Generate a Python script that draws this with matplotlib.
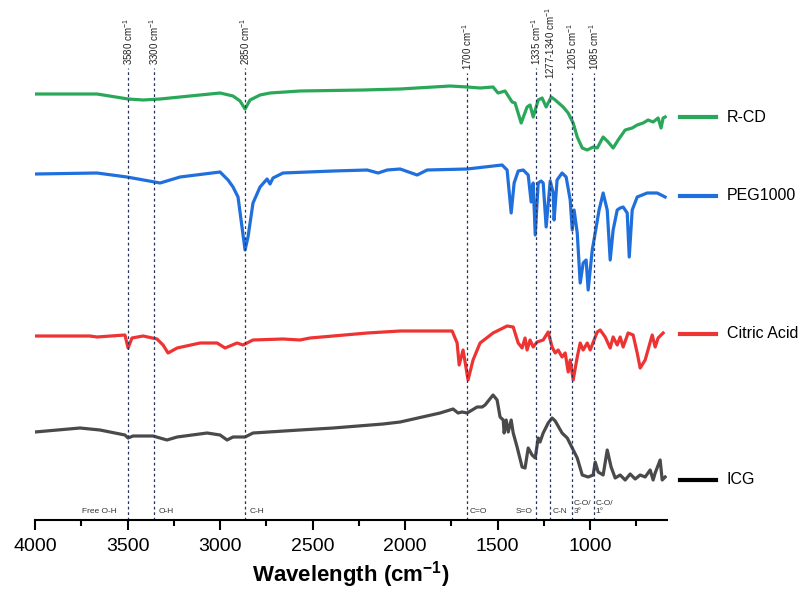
import numpy as np
import matplotlib
matplotlib.use("Agg")
import matplotlib.pyplot as plt
from matplotlib.ticker import MultipleLocator
from matplotlib.lines import Line2D

plt.rcParams['font.family'] = ['Liberation Sans', 'DejaVu Sans']
plt.rcParams['mathtext.fontset'] = 'custom'
plt.rcParams['mathtext.rm'] = 'Liberation Sans'
plt.rcParams['mathtext.bf'] = 'Liberation Sans:bold'

# ---- spectra (wavenumber, offset transmittance in arbitrary units) ----
rcd_wn = [4000, 3665, 3497, 3416, 3324, 3108, 3000, 2930, 2892, 2865, 2838, 2784, 2730, 2568,
          2227, 2027, 1757, 1665, 1595, 1525, 1498, 1460, 1422, 1406, 1373, 1341, 1325, 1308,
          1281, 1260, 1238, 1211, 1189, 1146, 1119, 1092, 1070, 1043, 1016, 984, 962, 930, 903,
          876, 849, 811, 773, 746, 714, 687, 660, 633, 617, 606, 595]
rcd_y = [426, 426, 421, 420, 421, 425, 427, 424, 419, 411, 420, 425, 427, 429,
         430, 431, 434, 433, 432, 433, 427, 429, 418, 417, 397, 413, 415, 403,
         420, 422, 413, 423, 420, 413, 407, 397, 383, 372, 370, 373, 372, 383, 378,
         372, 380, 390, 392, 395, 397, 400, 398, 402, 392, 402, 403]

peg_wn = [4000, 3665, 3503, 3324, 3216, 3000, 2957, 2930, 2903, 2865, 2849, 2822, 2784, 2746,
          2730, 2714, 2660, 2389, 2205, 2146, 2097, 2027, 1935, 1881, 1665, 1476, 1449, 1427,
          1411, 1389, 1362, 1335, 1319, 1308, 1297, 1281, 1265, 1254, 1238, 1216, 1200, 1195,
          1179, 1152, 1130, 1108, 1097, 1087, 1070, 1054, 1038, 1022, 1011, 989, 973, 952, 930,
          908, 892, 876, 854, 838, 822, 800, 789, 773, 746, 692, 638, 595]
peg_y = [346, 347, 343, 337, 343, 348, 340, 333, 323, 270, 283, 317, 333, 341,
         336, 342, 347, 349, 350, 347, 350, 351, 345, 350, 351, 355, 350, 307,
         337, 349, 350, 345, 318, 337, 285, 337, 339, 337, 293, 339, 327, 300,
         340, 347, 343, 320, 290, 310, 287, 237, 257, 260, 230, 270, 287, 310, 327,
         310, 260, 290, 310, 312, 313, 307, 263, 310, 323, 327, 327, 323]

ca_wn = [4000, 3703, 3665, 3514, 3497, 3476, 3416, 3341, 3308, 3281, 3232, 3108, 3016, 2973,
         2908, 2876, 2822, 2660, 2568, 2514, 2389, 2205, 2027, 1811, 1746, 1719, 1708, 1687,
         1676, 1660, 1633, 1595, 1525, 1449, 1416, 1389, 1368, 1352, 1341, 1325, 1308, 1287,
         1254, 1227, 1206, 1189, 1173, 1152, 1135, 1119, 1108, 1092, 1070, 1054, 1038, 1016,
         1000, 962, 946, 919, 892, 876, 854, 838, 822, 795, 768, 746, 730, 703, 665, 649, 633, 606]
ca_y = [184, 184, 183, 185, 172, 182, 184, 181, 175, 167, 172, 177, 177, 172,
        177, 175, 180, 181, 180, 182, 184, 187, 189, 189, 189, 177, 155, 170,
        158, 140, 160, 177, 187, 194, 193, 177, 172, 182, 170, 180, 173, 178,
        180, 188, 173, 167, 170, 163, 167, 148, 160, 140, 163, 177, 170, 177,
        170, 188, 190, 183, 172, 183, 175, 183, 173, 187, 185, 167, 152, 160, 185, 173, 182, 187]

icg_wn = [4000, 3757, 3649, 3514, 3497, 3470, 3362, 3287, 3232, 3070, 3000, 2962, 2930, 2865,
          2822, 2568, 2389, 2119, 2027, 1811, 1741, 1714, 1692, 1665, 1611, 1584, 1568, 1525,
          1503, 1487, 1470, 1465, 1454, 1443, 1427, 1416, 1395, 1368, 1352, 1335, 1314, 1297,
          1281, 1271, 1254, 1227, 1206, 1189, 1152, 1124, 1097, 1070, 1043, 1011, 984, 973, 957,
          930, 908, 887, 865, 838, 811, 784, 757, 730, 703, 676, 660, 649, 622, 611, 595]
icg_y = [88, 92, 90, 85, 82, 84, 84, 80, 83, 87, 85, 80, 83, 83,
         87, 90, 92, 96, 98, 107, 111, 107, 108, 107, 113, 113, 115, 125,
         120, 103, 100, 87, 100, 88, 100, 87, 73, 53, 52, 72, 65, 62,
         82, 78, 87, 97, 102, 99, 87, 82, 72, 62, 45, 43, 45, 58, 48,
         45, 70, 53, 42, 45, 40, 46, 41, 45, 43, 50, 40, 47, 60, 40, 43]

series_names = ['R-CD', 'PEG1000', 'Citric Acid', 'ICG']
series_colors = ['#2aa859', '#1f6fdc', '#ee3333', '#4a4a4a']
legend_colors = ['#2aa859', '#1f6fdc', '#ee3333', '#000000']

# ---- assignment markers ----
mark_pos = [3497, 3357, 2865, 1665, 1292, 1216, 1097, 981]
mark_top = [452, 452, 452, 447, 452, 438, 447, 447]
mark_text = ['3580 cm$^{-1}$', '3300 cm$^{-1}$', '2850 cm$^{-1}$', '1700 cm$^{-1}$',
             '1335 cm$^{-1}$', '1277-1340 cm$^{-1}$', '1205 cm$^{-1}$', '1085 cm$^{-1}$']

bond_text = ['Free O-H', 'O-H', 'C-H', 'C=O', 'S=O', 'C-N', 'C-O/\n3°', 'C-O/\n1°']
bond_x = [3560, 3330, 2840, 1650, 1310, 1205, 1090, 972]
bond_ha = ['right', 'left', 'left', 'left', 'right', 'left', 'left', 'left']

fig = plt.figure(figsize=(8.03, 5.93), dpi=100)
ax = fig.add_axes([35 / 803, 73 / 593, 632 / 803, 520 / 593])

for wn, y, c in zip([rcd_wn, peg_wn, ca_wn, icg_wn], [rcd_y, peg_y, ca_y, icg_y], series_colors):
    ax.plot(wn, y, color=c, lw=2.3, solid_joinstyle='round')

for x, top, t in zip(mark_pos, mark_top, mark_text):
    ax.plot([x, x], [0, top], color='#27325e', lw=0.9, ls=(0, (2.2, 2.2)))
    ax.text(x, top + 3, t, rotation=90, ha='center', va='bottom', fontsize=7, color='#222222')

for x, t, ha in zip(bond_x, bond_text, bond_ha):
    ax.text(x, 5, t, ha=ha, va='bottom', fontsize=6, color='#333333', linespacing=1.2)

ax.set_xlim(4000, 585)
ax.set_ylim(0, 520)
ax.xaxis.set_major_locator(MultipleLocator(500))
ax.xaxis.set_minor_locator(MultipleLocator(250))
ax.tick_params(axis='x', which='major', length=7, width=1.5, labelsize=14, pad=6)
ax.tick_params(axis='x', which='minor', length=4, width=1.5)
ax.set_yticks([])
for s in ['left', 'right', 'top']:
    ax.spines[s].set_visible(False)
ax.spines['bottom'].set_linewidth(1.5)
ax.set_xlabel('Wavelength (cm$^{\\mathbf{-1}}$)', fontsize=16, fontweight='bold', labelpad=3)

# legend, one entry next to each trace
legend_y = [117, 196, 334, 480]
for name, c, py in zip(series_names, legend_colors, legend_y):
    fy = 1 - py / 593
    fig.add_artist(Line2D([680 / 803, 716 / 803], [fy, fy], color=c, lw=3))
    fig.text(727 / 803, fy, name, fontsize=11.5, va='center', ha='left')

fig.savefig('out.png', dpi=100)
